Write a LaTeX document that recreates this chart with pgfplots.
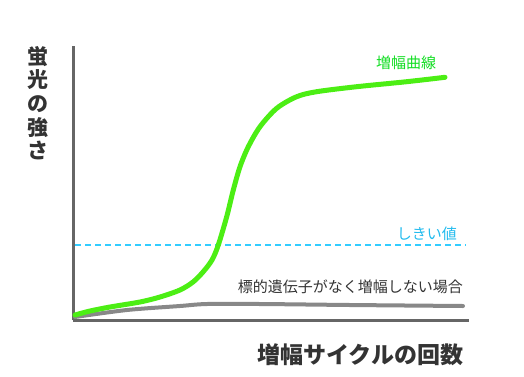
\documentclass[border=0pt]{standalone}
\usepackage{pgfplots}
\pgfplotsset{compat=1.18}
\usepackage{fontspec}
\setmainfont{Noto Sans CJK JP}
\definecolor{axgray}{HTML}{666666}
\definecolor{curvegreen}{HTML}{4CEE14}
\definecolor{labgreen}{HTML}{11DD22}
\definecolor{thcyan}{HTML}{33CCFF}
\definecolor{thtext}{HTML}{22BBEE}
\definecolor{flatgray}{HTML}{888888}
\begin{document}
\begin{tikzpicture}
\useasboundingbox (0,0) rectangle (524pt,376pt);
\begin{axis}[
  at={(73pt,56pt)}, anchor=south west,
  scale only axis, width=396pt, height=274pt,
  xmin=0, xmax=396, ymin=0, ymax=274,
  axis lines=left,
  axis line style={-, draw=axgray, line width=3pt},
  xtick=\empty, ytick=\empty,
  clip=false,
  xlabel={増幅サイクルの回数},
  xlabel style={font=\fontsize{23pt}{26pt}\selectfont\bfseries, text=black!80, at={(axis description cs:0.725,-0.128)}, anchor=center, inner sep=0pt},
  ylabel={蛍\\光\\の\\強\\さ},
  ylabel style={font=\fontsize{21pt}{23.6pt}\selectfont\bfseries, text=black!80, rotate=-90, align=center, at={(axis description cs:-0.088,1.0)}, anchor=north, inner sep=0pt},
]
% flat (no target) curve
\addplot[flatgray, line width=4pt, line cap=round, smooth] coordinates {
(2,3) (54,10) (107,14) (134,16) (187,16) (277,15) (390,14)
};
% threshold
\addplot[thcyan, line width=2pt, dash pattern=on 6pt off 4pt] coordinates {
(2,75) (393,75)
};
% amplification curve
\addplot[curvegreen, line width=5pt, line cap=round, smooth, tension=0.5] coordinates {
(2,5) (17,9) (37,13) (67,18) (87,23) (107,30) (120,38) (130,48) (139,60)
(145.3,75) (153.7,103.3) (160.3,130) (167,153.3) (175.3,173.3) (187,193.3)
(203.7,211.7) (223.7,223.3) (243.7,228.3) (283.7,233.3) (333.7,238.3) (372,242.7)
};
\node[text=labgreen, font=\fontsize{15pt}{18pt}\selectfont, inner sep=0pt] at (axis cs:333,257) {増幅曲線};
\node[text=thtext, font=\fontsize{15pt}{18pt}\selectfont, anchor=east, inner sep=0pt] at (axis cs:384,86) {しきい値};
\node[text=black!80, font=\fontsize{15pt}{18pt}\selectfont, anchor=east, inner sep=0pt] at (axis cs:390,33) {標的遺伝子がなく増幅しない場合};
\end{axis}
\end{tikzpicture}
\end{document}
